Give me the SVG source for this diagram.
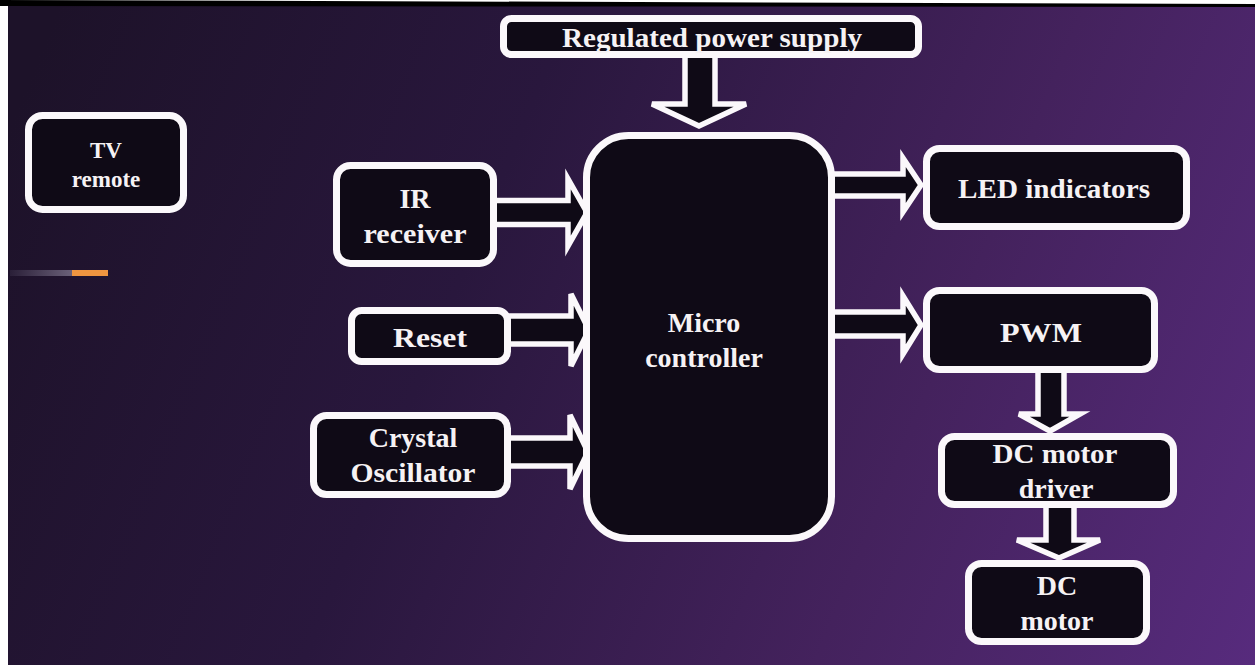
<svg xmlns="http://www.w3.org/2000/svg" width="1255" height="665" viewBox="0 0 1255 665">
<defs>
<linearGradient id="bg" gradientUnits="userSpaceOnUse" x1="0" y1="150" x2="1255" y2="665">
<stop offset="0" stop-color="#1d1229"/>
<stop offset="0.35" stop-color="#29173d"/>
<stop offset="0.7" stop-color="#44225d"/>
<stop offset="1" stop-color="#572b7d"/>
</linearGradient>
<linearGradient id="deco" x1="0" y1="0" x2="1" y2="0">
<stop offset="0" stop-color="#2a1f38"/>
<stop offset="1" stop-color="#6a6078"/>
</linearGradient>
<style>
.box{fill:#0f0a16;stroke:#fbf8fb;stroke-width:7}
.arr{fill:#0f0a16;stroke:#fbf8fb;stroke-width:5.5;stroke-linejoin:miter}
.t{font-family:"Liberation Serif","Times New Roman",serif;font-weight:bold;fill:#f6f2f4;text-anchor:middle;font-size:28px}
</style>
</defs>
<rect x="0" y="0" width="1255" height="665" fill="#ffffff"/>
<rect x="8" y="6" width="1247" height="659" fill="url(#bg)"/>
<polygon points="0,0 1255,4 1255,7 0,6" fill="#000000"/>
<rect x="10" y="270" width="62" height="6" fill="url(#deco)"/>
<rect x="72" y="270" width="36" height="6" fill="#ef9540"/>

<g id="connectors">
<polygon class="arr" points="685,52 715,52 715,104 746,104 699,126 652,104 685,104"/>
<polygon class="arr" points="494,200.5 568,200.5 568,179 587,212.5 568,246 568,224.5 494,224.5"/>
<polygon class="arr" points="508,316 571,316 571,294 589,330 571,366 571,344 508,344"/>
<polygon class="arr" points="508,438 570,438 570,415 588,452 570,489 570,466 508,466"/>
<polygon class="arr" points="832,174 903,174 903,158 921,185 903,212 903,196 832,196"/>
<polygon class="arr" points="832,312 903,312 903,296 921,325 903,354 903,336 832,336"/>
<polygon class="arr" points="1038,368 1064,368 1064,414 1080,414 1050,431 1019,414 1038,414"/>
<polygon class="arr" points="1046,503 1074,503 1074,540 1100,540 1059,558 1017,540 1046,540"/>
</g>

<g id="tv-remote">
<rect class="box" x="28.5" y="115.5" width="155" height="94" rx="14"/>
<text class="t" x="106" y="158" style="font-size:23px">TV</text>
<text class="t" x="106" y="187" style="font-size:23px">remote</text>
</g>

<g id="power-supply">
<rect class="box" x="503.5" y="18.5" width="415" height="36" rx="8"/>
<text class="t" x="712" y="47" style="font-size:27px" textLength="300" lengthAdjust="spacingAndGlyphs">Regulated power supply</text>
</g>

<g id="microcontroller">
<rect class="box" x="586.5" y="135.5" width="245" height="403" rx="42"/>
<text class="t" x="704" y="332">Micro</text>
<text class="t" x="704" y="367">controller</text>
</g>

<g id="ir-receiver">
<rect class="box" x="336.5" y="165.5" width="157" height="98" rx="14"/>
<text class="t" x="415" y="208">IR</text>
<text class="t" x="415" y="243" textLength="103" lengthAdjust="spacingAndGlyphs">receiver</text>
</g>

<g id="reset">
<rect class="box" x="351.5" y="310.5" width="156" height="51" rx="10"/>
<text class="t" x="430" y="347" textLength="74" lengthAdjust="spacingAndGlyphs">Reset</text>
</g>

<g id="crystal">
<rect class="box" x="313.5" y="415.5" width="194" height="79" rx="13"/>
<text class="t" x="413" y="447">Crystal</text>
<text class="t" x="413" y="482" textLength="125" lengthAdjust="spacingAndGlyphs">Oscillator</text>
</g>

<g id="led">
<rect class="box" x="926.5" y="148.5" width="260" height="78" rx="13"/>
<text class="t" x="1054" y="198" textLength="192" lengthAdjust="spacingAndGlyphs">LED indicators</text>
</g>

<g id="pwm">
<rect class="box" x="926.5" y="290.5" width="228" height="79" rx="13"/>
<text class="t" x="1041" y="342" textLength="82" lengthAdjust="spacingAndGlyphs">PWM</text>
</g>

<g id="driver">
<rect class="box" x="941.5" y="436.5" width="232" height="68" rx="13"/>
<text class="t" x="1055" y="463" textLength="125" lengthAdjust="spacingAndGlyphs">DC motor</text>
<text class="t" x="1056" y="498">driver</text>
</g>

<g id="dc-motor">
<rect class="box" x="968.5" y="563.5" width="178" height="78" rx="13"/>
<text class="t" x="1057" y="595">DC</text>
<text class="t" x="1057" y="630">motor</text>
</g>
</svg>
